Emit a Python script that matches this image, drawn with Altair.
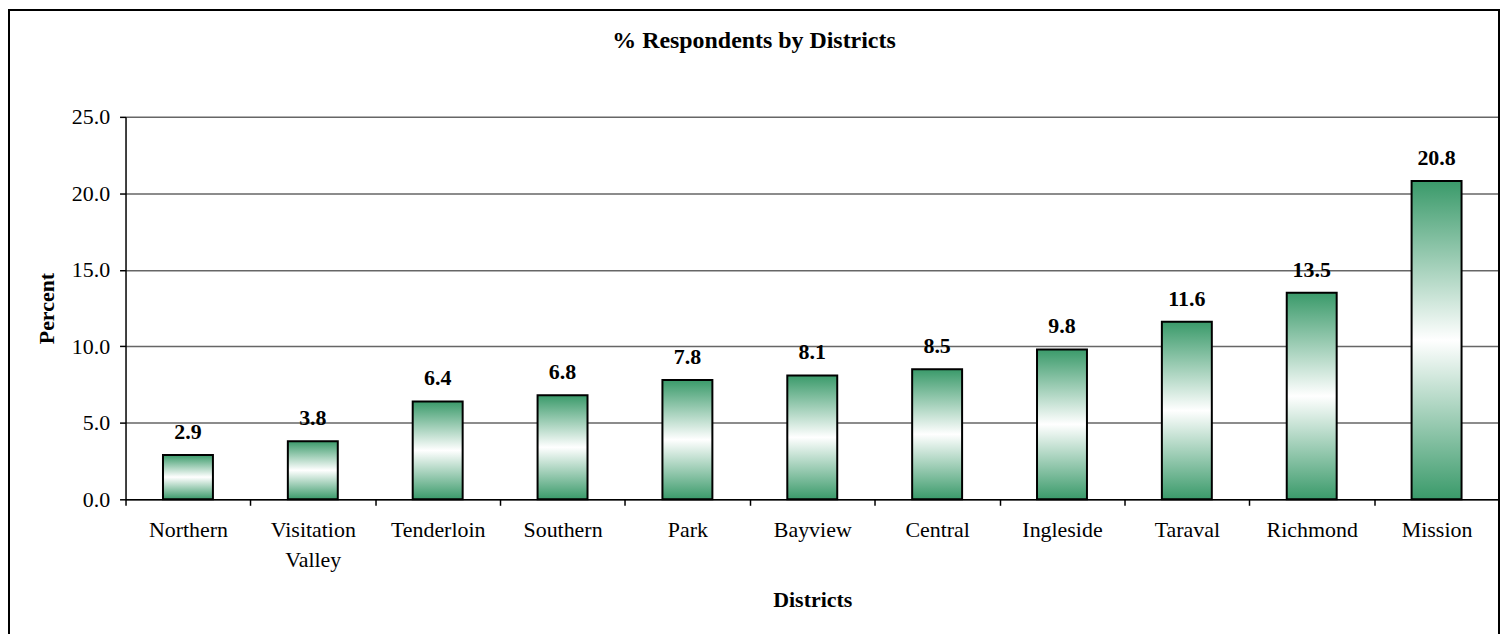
import altair as alt
import pandas as pd

districts = ["Northern", "Visitation Valley", "Tenderloin", "Southern", "Park",
             "Bayview", "Central", "Ingleside", "Taraval", "Richmond", "Mission"]
percent = [2.9, 3.8, 6.4, 6.8, 7.8, 8.1, 8.5, 9.8, 11.6, 13.5, 20.8]

df = pd.DataFrame({"District": districts, "Percent": percent})

FONT = "Liberation Serif"
GREEN = "#3a9a6a"
W, H = 1379, 384

grad = alt.Gradient(
    gradient="linear",
    stops=[
        alt.GradientStop(color=GREEN, offset=0),
        alt.GradientStop(color="#ffffff", offset=0.5),
        alt.GradientStop(color=GREEN, offset=1),
    ],
    x1=0, x2=0, y1=0, y2=1,
)

xenc = alt.X(
    "District:N", sort=districts,
    scale=alt.Scale(paddingInner=0, paddingOuter=0),
    axis=alt.Axis(
        title="Districts", labelAngle=0, tickBand="extent",
        labelExpr="split(datum.label, ' ')", labelPadding=14,
        labelLineHeight=30, titlePadding=20,
    ),
)
yenc = alt.Y(
    "Percent:Q",
    scale=alt.Scale(domain=[0, 25], nice=False),
    axis=alt.Axis(title="Percent", values=[0, 5, 10, 15, 20, 25], format=".1f",
                  titlePadding=13, labelPadding=10),
)

bars = alt.Chart(df).mark_bar(
    fill=grad, stroke="black", strokeWidth=2,
    width=alt.RelativeBandSize(0.4),
).encode(x=xenc, y=yenc)

labels = alt.Chart(df).mark_text(
    dy=-16, baseline="alphabetic", font=FONT, fontSize=22, fontWeight="bold", color="black",
).encode(x=alt.X("District:N", sort=districts), y="Percent:Q",
         text=alt.Text("Percent:Q", format=".1f"))

frame = alt.Chart(df).mark_rect(
    fill=None, stroke="black", strokeWidth=1.5,
).encode(x=alt.value(-117), x2=alt.value(W), y=alt.value(-107), y2=alt.value(530))

chart = alt.layer(frame, bars, labels).properties(
    width=W, height=H,
    padding=0,
    title=alt.TitleParams(
        "% Respondents by Districts", font=FONT, fontSize=24, fontWeight="bold",
        color="black", anchor="middle", frame="bounds", offset=-44,
    ),
).configure_view(stroke=None).configure_axis(
    labelFont=FONT, labelFontSize=22, labelColor="black",
    titleFont=FONT, titleFontSize=22, titleFontWeight="bold", titleColor="black",
    domainColor="black", domainWidth=1.5, tickColor="black", tickSize=6, tickWidth=1.5,
    gridColor="#666666", gridWidth=1.5,
).configure_axisX(grid=False).configure_axisY(grid=True)

chart.save("out.html", embed_options={"renderer": "svg", "actions": False})
